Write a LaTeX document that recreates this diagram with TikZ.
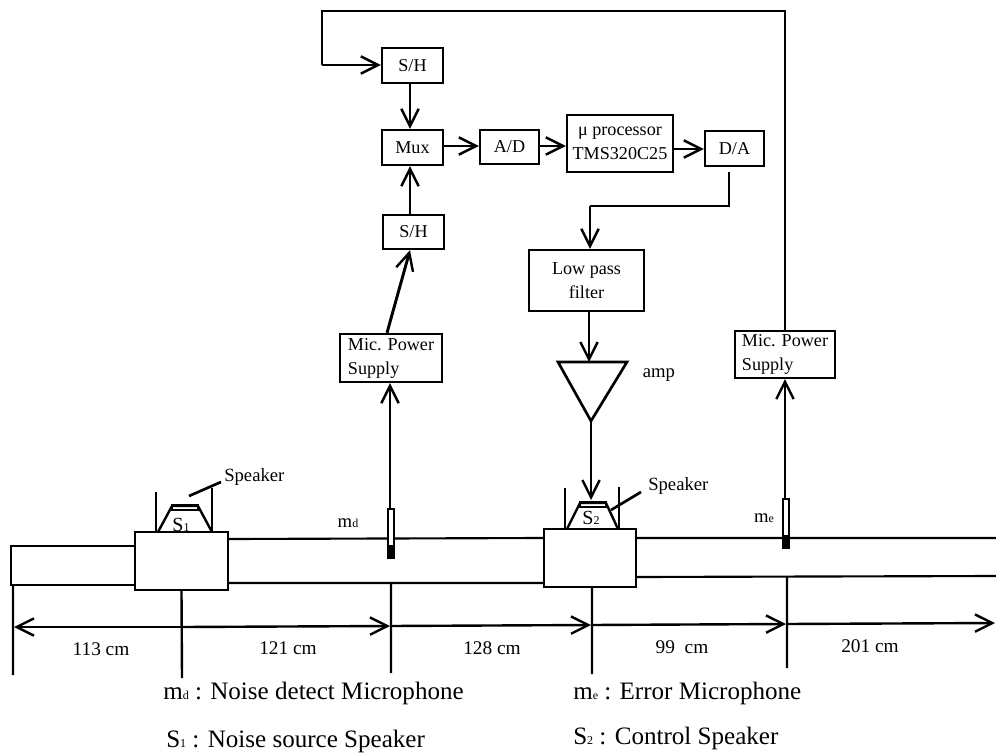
\documentclass[tikz,border=0pt]{standalone}
\usepackage{fontspec}
\setmainfont{Liberation Serif}
\usetikzlibrary{arrows.meta}
\newcommand{\lowsub}[1]{{\fontsize{9}{9}\selectfont #1}}
\tikzset{
 x=0.75pt,y=-0.75pt,
 blk/.style={draw,line width=1.8pt,rectangle,inner sep=0pt,fill=white,align=center,font=\fontsize{13.6}{18}\selectfont},
 lbl/.style={inner sep=0pt,font=\fontsize{14}{16}\selectfont},
 dim/.style={inner sep=0pt,font=\fontsize{14.5}{16}\selectfont},
 legend/.style={inner sep=0pt,anchor=west,font=\fontsize{18.8}{22}\selectfont},
 wire/.style={line width=1.8pt},
 arr/.style={line width=1.8pt,-{Straight Barb[length=13pt,width=13pt,line width=1.8pt]}},
 duct/.style={line width=1.6pt},
 mic/.style={draw,line width=1.5pt,fill=white,minimum width=4.5pt,minimum height=36.5pt,inner sep=0pt},
}
\newcommand{\bx}[6]{\node[blk,minimum width=#4*0.75pt-#2*0.75pt,minimum height=#5*0.75pt-#3*0.75pt] (#1) at ({(#2+#4)/2},{(#3+#5)/2}) {#6};}
\begin{document}
\begin{tikzpicture}
\useasboundingbox[fill=white] (0,0) rectangle (996,753);
% blocks
\bx{shtop}{382}{48}{443}{83}{S/H}
\bx{mux}{382}{130}{443}{165}{Mux}
\bx{ad}{480}{130}{539}{164}{A/D}
\bx{proc}{567}{115}{673}{172}{μ processor\\TMS320C25}
\bx{da}{705}{131}{764}{166}{D/A}
\bx{shlow}{383}{215}{444}{249}{S/H}
\bx{lpf}{529}{250}{644}{311}{\baselineskip=20pt Low pass\\filter}
\node[blk,align=left,minimum width=76.5pt,minimum height=36pt] (mpl) at (391,358) {\baselineskip=17.5pt Mic. Power\\Supply};
\node[blk,align=left,minimum width=75pt,minimum height=35pt] (mpr) at (785,354.5) {\baselineskip=17.5pt Mic. Power\\Supply};
% amp
\coordinate (ampa) at (558,362);\coordinate (ampb) at (627,362);\coordinate (ampc) at (591,421);
\draw[line width=2pt,line join=miter] (ampa)--(ampb)--(ampc)--cycle;
\node[lbl] (amplbl) at (659,375) {amp};
% ducts
\coordinate (d0) at (11,546);\coordinate (d1) at (11,585);
\bx{box1}{135}{532}{228}{590}{}
\bx{box2}{544}{529}{636}{587}{}
\coordinate (dtl) at (228,539);\coordinate (dbl) at (228,583);
\coordinate (dtm) at (544,538);\coordinate (dbm) at (544,583);
\coordinate (dtr) at (636,538);\coordinate (dbr) at (636,577);
\coordinate (dtre) at (996,538);\coordinate (dbre) at (996,576);
\draw[duct] (135,546)--(d0)--(d1)--(135,585);
\draw[duct] (dtl)--(dtm) (dbl)--(dbm) (dtr)--(dtre) (dbr)--(dbre);
% microphones
\node[mic,anchor=north] (md) at (391,508) {};
\fill (388,545) rectangle (394,557);
\node[mic,anchor=north] (me) at (786,498) {};
\fill (783,535) rectangle (789,547);
% speakers
\draw[line width=1.8pt] (158,532)--(172,506)--(198,506)--(212,532);
\draw[line width=1.3pt] (172,505) rectangle (198,510);
\draw[line width=1.8pt] (156,532)--(156,492) (212,532)--(212,488);
\coordinate (sp1a) at (189,496);\coordinate (sp1b) at (221,482);
\draw[line width=2pt] (sp1a)--(sp1b);
\node[lbl,anchor=west] (sp1l) at (224,477) {Speaker};
\node[lbl,font=\fontsize{15}{16}\selectfont] (s1) at (181,525) {S\lowsub{1}};
\draw[line width=1.8pt] (567,529)--(580,503)--(606,503)--(618,529);
\draw[line width=1.3pt] (580,502) rectangle (606,507);
\draw[line width=1.8pt] (565,529)--(565,488) (619,529)--(619,487);
\coordinate (sp2a) at (611,510);\coordinate (sp2b) at (641,492);
\draw[line width=2pt] (sp2a)--(sp2b);
\node[lbl,anchor=west] (sp2l) at (648,486) {Speaker};
\node[lbl,font=\fontsize{15}{16}\selectfont] (s2) at (591,518) {S\lowsub{2}};
\node[lbl] (mdl) at (348,523) {m\lowsub{d}};
\node[lbl] (mel) at (764,518) {m\lowsub{e}};
% dimension ticks
\coordinate (t0t) at (13,585);\coordinate (t0b) at (13,675);
\coordinate (t1b) at (182,678);
\coordinate (t2t) at (391,583);\coordinate (t2b) at (391,673);
\coordinate (t3b) at (592,674);
\coordinate (t4t) at (787,577);\coordinate (t4b) at (787,668);
\coordinate (dimend) at (995,623);
\draw[wire] (t0t)--(t0b) (box1.south)--(t1b) (t2t)--(t2b) (box2.south -| t3b)--(t3b) (t4t)--(t4b);
\coordinate (a0) at (14,627);\coordinate (a2) at (390,626);\coordinate (a3) at (591,625);\coordinate (a4) at (786,624);
\draw[arr] (182,627)--(a0);
\draw[arr] (182,627)--(a2);
\draw[arr] (a2)--(a3);
\draw[arr] (a3)--(a4);
\draw[arr] (a4)--(dimend);
\node[dim] at (101,649) {113 cm};
\node[dim] at (288,648) {121 cm};
\node[dim] at (492,648) {128 cm};
\node[dim] at (682,647) {99\ \ cm};
\node[dim] at (870,646) {201 cm};
% legend
\node[legend] (l1) at (163,693) {m\lowsub{d} : Noise detect Microphone};
\node[legend] (l2) at (166,741) {S\lowsub{1} : Noise source Speaker};
\node[legend] (l3) at (573,693) {m\lowsub{e} : Error Microphone};
\node[legend] (l4) at (573,738) {S\lowsub{2} : Control Speaker};
% signal connectors
\coordinate (fb1) at (322,11);\coordinate (fb2) at (322,65);\coordinate (fb3) at (785,11);
\draw[wire] (mpr.north -| fb3) -- (fb3) -- (fb1) -- (fb2);
\draw[arr] (fb2)--(fb2 -| shtop.west);
\draw[arr] (shtop.south -| 410,0)--(mux.north -| 410,0);
\draw[arr] (shlow.north -| 410,0)--(mux.south -| 410,0);
\draw[arr] (mux.east |- 0,146)--(ad.west |- 0,146);
\draw[arr] (ad.east |- 0,146)--(proc.west |- 0,146);
\draw[arr] (proc.east |- 0,149)--(da.west |- 0,149);
\coordinate (c1) at (729,172);\coordinate (c2) at (729,206);\coordinate (c3) at (590,206);
\draw[wire] (c1)--(c2)--(c3);
\draw[arr] (c3)--(c3 |- lpf.north);
\draw[arr] (lpf.south -| 589,0)--(ampa -| 589,0);
\draw[arr] (ampc)--(591,500);
\draw[arr,line width=2.2pt] (mpl.north -| 387,0)--(shlow.south -| 410,0);
\draw[arr] (md.north -| 390,0)--(mpl.south -| 390,0);
\draw[arr] (me.north -| 785,0)--(mpr.south -| 785,0);
\end{tikzpicture}
\end{document}
